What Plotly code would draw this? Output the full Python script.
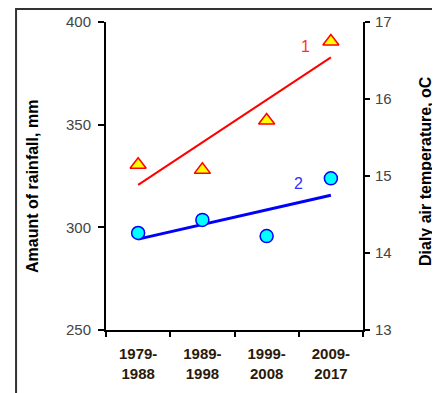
import plotly.graph_objects as go

# periods on the x axis
periods = ["1979-<br>1988", "1989-<br>1998", "1999-<br>2008", "2009-<br>2017"]

# curve 1: amount of rainfall, mm (left axis)
rainfall = [330.5, 328, 352, 390.5]
rainfall_trend_periods = [periods[0], periods[-1]]
rainfall_trend = [320.7, 382.8]

# curve 2: daily air temperature, oC (right axis)
temperature = [14.26, 14.43, 14.22, 14.97]
temperature_trend_periods = [periods[0], periods[-1]]
temperature_trend = [14.18, 14.75]

fig = go.Figure()

# trend lines first so the markers sit on top
fig.add_trace(go.Scatter(
    x=rainfall_trend_periods, y=rainfall_trend, mode="lines",
    line=dict(color="#ff0000", width=2), yaxis="y", showlegend=False
))
fig.add_trace(go.Scatter(
    x=temperature_trend_periods, y=temperature_trend, mode="lines",
    line=dict(color="#0000ff", width=3), yaxis="y2", showlegend=False
))

fig.add_trace(go.Scatter(
    x=periods, y=rainfall, mode="markers",
    marker=dict(symbol="triangle-up", size=14, color="#ffff00",
                line=dict(color="#ff0000", width=1.5)),
    yaxis="y", showlegend=False
))
fig.add_trace(go.Scatter(
    x=periods, y=temperature, mode="markers",
    marker=dict(symbol="circle", size=13, color="#00ffff",
                line=dict(color="#0000ff", width=1.5)),
    yaxis="y2", showlegend=False
))

tick_font = dict(family="Arial", size=15, color="#444444")
title_font = dict(family="Arial", size=16, color="black", weight="bold")

# the page body has an 8px margin, so everything is placed 8px up/left
fig.update_layout(
    width=440, height=393,
    margin=dict(l=98, r=85, t=14, b=71),
    paper_bgcolor="white", plot_bgcolor="white",
    xaxis=dict(
        type="category", categoryorder="array", categoryarray=periods,
        range=[-0.5, 3.5], tickson="boundaries", automargin=False,
        showgrid=False, zeroline=False,
        showline=True, linecolor="black", linewidth=2,
        ticks="outside", ticklen=5, tickwidth=2, tickcolor="black",
        tickfont=dict(family="Arial", size=15, color="#2a1a0a", weight="bold"),
        tickangle=0, ticklabelstandoff=9,
    ),
    yaxis=dict(
        range=[250, 400], dtick=50, showgrid=False, zeroline=False,
        automargin=False,
        showline=True, linecolor="black", linewidth=2,
        ticks="outside", ticklen=6, tickwidth=2, tickcolor="black",
        tickfont=tick_font, ticklabelstandoff=4,
    ),
    yaxis2=dict(
        range=[13, 17], dtick=1, overlaying="y", side="right",
        automargin=False,
        showgrid=False, zeroline=False,
        showline=True, linecolor="black", linewidth=2,
        ticks="outside", ticklen=5, tickwidth=2, tickcolor="black",
        tickfont=tick_font, ticklabelstandoff=2,
    ),
    annotations=[
        dict(x=-0.288, y=0.4675, xref="paper", yref="paper",
             text="Amaunt of rainfall, mm", textangle=-90, showarrow=False,
             xanchor="center", yanchor="middle",
             font=dict(title_font, size=16)),
        dict(x=1.241, y=0.516, xref="paper", yref="paper",
             text="Dialy air temperature, oC", textangle=-90, showarrow=False,
             xanchor="center", yanchor="middle", font=title_font),
        dict(x=2.6, y=388, xref="x", yref="y", text="1", showarrow=False,
             font=dict(family="Arial", size=16, color="#ff3030")),
        dict(x=2.49, y=14.9, xref="x", yref="y2", text="2", showarrow=False,
             font=dict(family="Arial", size=16, color="#3030ff")),
    ],
    shapes=[
        # outer frame of the figure, partly cut off by the image edge
        dict(type="rect", xref="paper", yref="paper",
             x0=-0.35, x1=1.6, y0=-0.5, y1=1.042,
             line=dict(color="#333333", width=2)),
    ],
)

fig.write_html("out.html")
